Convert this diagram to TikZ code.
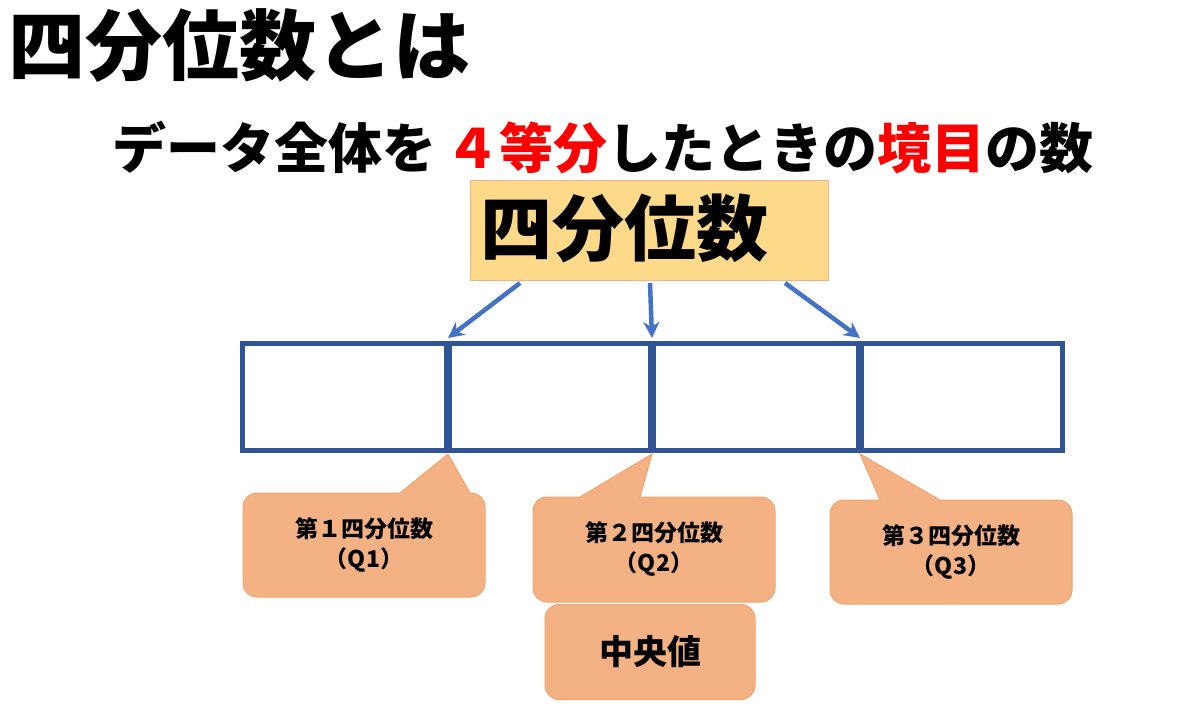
\documentclass[tikz,border=0pt]{standalone}
\usepackage{fontspec}
\newfontfamily\jp{Noto Sans CJK JP}
\usetikzlibrary{arrows.meta,positioning}
\definecolor{cellblue}{HTML}{2F5597}
\definecolor{arrblue}{HTML}{4472C4}
\definecolor{callfill}{HTML}{F4B183}
\definecolor{callline}{HTML}{ED7D31}
\definecolor{boxfill}{HTML}{FDD98A}
\definecolor{boxline}{HTML}{F4B183}
\tikzset{
  cell/.style={draw=cellblue,line width=5pt},
  divider/.style={draw=cellblue,line width=8pt},
  pointer/.style={draw=arrblue,line width=4.5pt,-{Stealth[length=16pt,width=16pt]}},
  callout/.style={fill=callfill,draw=callline!70,line width=1pt},
  bigtext/.style={font=\jp\bfseries\fontsize{#1}{#1}\selectfont,inner sep=0pt}
}
\begin{document}
\begin{tikzpicture}[x=1pt,y=-1pt]
\useasboundingbox (0,0) rectangle (1200,718);
% titles
\node[bigtext=77,anchor=west] (title) at (8,46) {四分位数とは};
\node[bigtext=54,anchor=west] (sub) at (112,148) {データ全体を\,\textcolor{red}{４等分}したときの\textcolor{red}{境目}の数};
% yellow box
\node[fill=boxfill,draw=boxline,line width=1pt,minimum width=358pt,minimum height=100pt,
  inner sep=0pt] (quart) at (649,230) {};
\node[bigtext=72,anchor=west] (quarttext) at (480,228) {四分位数};
% cells
\draw[cell] (242,343) rectangle (1062,450);
\foreach \x/\n in {448/a,652/b,860/c}{
  \draw[divider] (\x,343) -- (\x,450);
  \coordinate (top\n) at (\x,338);
  \coordinate (bot\n) at (\x,454);
}
% arrows
\coordinate (srca) at (520,283);
\coordinate (srcb) at (650,283);
\coordinate (srcc) at (785,283);
\draw[pointer] (srca) -- (topa);
\draw[pointer] (srcb) -- (topb);
\draw[pointer] (srcc) -- (topc);
% callouts
\draw[callout] (243,540) [rounded corners=14pt] -- (243,493) [sharp corners] -- (400,493)
  -- (bota) -- (470,493) [rounded corners=14pt] -- (485,493) -- (485,597) -- (243,597) -- cycle;
\draw[callout] (533,550) [rounded corners=14pt] -- (533,497) [sharp corners] -- (580,497)
  -- (botb) -- (640,497) [rounded corners=14pt] -- (775,497) -- (775,602) -- (533,602) -- cycle;
\draw[callout] (830,550) [rounded corners=14pt] -- (830,500) [sharp corners] -- (880,500)
  -- (botc) -- (940,500) [rounded corners=14pt] -- (1072,500) -- (1072,604) -- (830,604) -- cycle;
\node[callout,rounded corners=14pt,minimum width=210pt,minimum height=95pt] (median) at (650,652) {};
\node[bigtext=23,align=center] (q1) at (364,545) {第１四分位数\\[7pt]（Q1）};
\node[bigtext=23,align=center] (q2) at (654,549) {第２四分位数\\[7pt]（Q2）};
\node[bigtext=23,align=center] (q3) at (951,552) {第３四分位数\\[7pt]（Q3）};
\node[bigtext=34] (medtext) at (650,652) {中央値};
\end{tikzpicture}
\end{document}
